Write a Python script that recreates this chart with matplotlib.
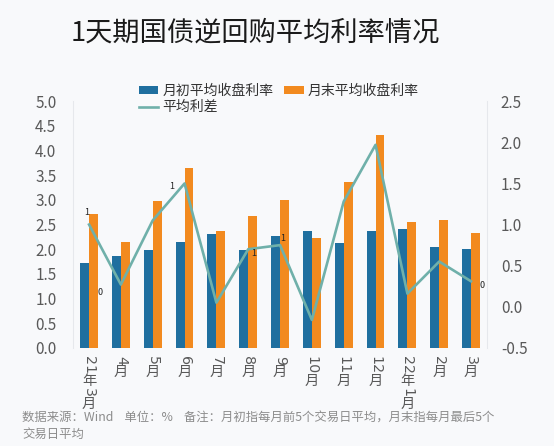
import matplotlib
matplotlib.use("Agg")
import matplotlib.pyplot as plt
import numpy as np
import re

plt.rcParams['font.family'] = ['Noto Sans CJK SC', 'DejaVu Sans']

categories = ["21年3月", "4月", "5月", "6月", "7月", "8月", "9月", "10月", "11月", "12月", "22年1月", "2月", "3月"]
rate_start = [1.72, 1.87, 1.98, 2.15, 2.31, 1.98, 2.27, 2.37, 2.12, 2.36, 2.41, 2.04, 2.01]
rate_end = [2.72, 2.14, 2.98, 3.64, 2.37, 2.68, 3.00, 2.22, 3.36, 4.32, 2.56, 2.60, 2.33]
spread = [1.00, 0.27, 1.05, 1.50, 0.05, 0.70, 0.75, -0.16, 1.28, 1.97, 0.16, 0.55, 0.31]
label_idx = [0, 1, 3, 5, 6, 12]
label_txt = ["1", "0", "1", "1", "1", "0"]
label_off = [(-2, 9), (-15, -6), (-9, -2), (4, -3), (2, 5), (8, -3)]

bg = '#f8f9fb'
c_blue = '#1f6f9f'
c_orange = '#f28a1f'
c_line = '#6fb0aa'
c_text = '#595959'

fig = plt.figure(figsize=(5.54, 4.46), dpi=100, facecolor=bg)
ax = fig.add_axes([0.132, 0.22, 0.747, 0.553], facecolor=bg)
x = np.arange(len(categories))
w = 0.28
b1 = ax.bar(x - w/2, rate_start, w, color=c_blue, label='月初平均收盘利率')
b2 = ax.bar(x + w/2, rate_end, w, color=c_orange, label='月末平均收盘利率')
ax.set_ylim(0, 5)
ax.set_yticks(np.arange(0, 5.01, 0.5))
ax.set_yticklabels([f"{v:.1f}" for v in np.arange(0, 5.01, 0.5)])
ax.set_xlim(-0.5, len(categories) - 0.5)
ax.set_xticks(x)
ax.set_xticklabels([])
ax.tick_params(axis='y', labelsize=11, colors=c_text, length=0, pad=12)
ax.tick_params(axis='x', length=0)
for s in ['top', 'right', 'bottom']:
    ax.spines[s].set_visible(False)
ax.spines['left'].set_color('#e6e8ec')

# vertical (stacked) category labels: CJK upright, digit runs rotated
fs = 10.3
trans = ax.get_xaxis_transform()
for xi, lab in zip(x, categories):
    y_pt = -6.0
    for run in re.findall(r'\d+|\D', lab):
        if run.isdigit():
            h = 0.62 * fs * len(run)
            ax.annotate(run, (xi, 0), xycoords=trans, xytext=(0, y_pt - h / 2),
                        textcoords='offset points', rotation=-90, ha='center', va='center',
                        fontsize=fs, color=c_text, family='DejaVu Sans')
        else:
            h = 1.0 * fs
            ax.annotate(run, (xi, 0), xycoords=trans, xytext=(0, y_pt - h / 2),
                        textcoords='offset points', ha='center', va='center',
                        fontsize=fs, color=c_text)
        y_pt -= h

ax2 = ax.twinx()
ln, = ax2.plot(x, spread, color=c_line, lw=1.9, label='平均利差')
ax2.set_ylim(-0.5, 2.5)
ax2.set_yticks(np.arange(-0.5, 2.51, 0.5))
ax2.set_yticklabels([f"{v:.1f}" for v in np.arange(-0.5, 2.51, 0.5)])
ax2.tick_params(axis='y', labelsize=11, colors=c_text, length=0, pad=10)
for s in ['top', 'left', 'bottom']:
    ax2.spines[s].set_visible(False)
ax2.spines['right'].set_color('#e6e8ec')

for i, t, off in zip(label_idx, label_txt, label_off):
    ax2.annotate(t, (x[i], spread[i]), xytext=off, textcoords='offset points',
                 fontsize=6.5, color='#222222', ha='center', va='center')

fig.text(0.46, 0.925, '1天期国债逆回购平均利率情况', ha='center', va='center',
         fontsize=19.6, color='#1a1a1a', fontweight='light')

fig.legend([b1, ln, b2], ['月初平均收盘利率', '平均利差', '月末平均收盘利率'],
           loc='upper left', bbox_to_anchor=(0.24, 0.825), ncol=2, frameon=False,
           fontsize=10, labelcolor='#333333', handlelength=1.4, handleheight=0.5,
           handletextpad=0.3, columnspacing=0.8, labelspacing=0.2, borderaxespad=0)

fig.text(0.04, 0.063, '数据来源：Wind    单位：%    备注：月初指每月前5个交易日平均，月末指每月最后5个',
         fontsize=8.9, color='#8c8c8c', ha='left', va='center')
fig.text(0.04, 0.027, '交易日平均', fontsize=8.9, color='#8c8c8c', ha='left', va='center')

fig.savefig('out.png', dpi=100, facecolor=bg)
